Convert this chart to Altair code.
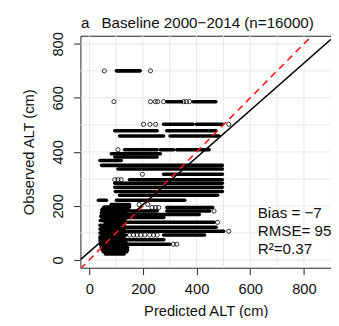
import altair as alt
import pandas as pd

# ---------------- data ----------------
# dense runs of overlapping circles: observed value (y) and predicted range (x1..x2)
run_y = [700, 586, 586, 502, 502, 478, 478, 459, 459, 408, 408, 408,
         393, 381, 368, 350, 337, 317, 297, 284, 269, 253, 239, 221, 221,
         205, 194, 181, 181, 168, 157, 139, 121, 106, 92, 92, 75, 58,
         22, 30, 38, 46, 54, 62, 70, 78, 86, 100, 114, 128, 146, 162, 174, 188, 196]
run_x1 = [101, 289, 387, 277, 399, 95, 289, 113, 301, 131, 265, 326,
          82, 95, 40, 46, 107, 277, 150, 95, 95, 97, 113, 34, 101,
          82, 289, 47, 289, 47, 47, 59, 47, 47, 47, 277, 58, 58,
          60, 52, 48, 45, 43, 42, 40, 40, 40, 40, 40, 40, 41, 43, 45, 48, 55]
run_x2 = [190, 344, 472, 387, 496, 253, 472, 277, 484, 253, 314, 447,
          265, 253, 119, 496, 496, 496, 496, 496, 496, 496, 478, 64, 356,
          150, 460, 253, 449, 410, 278, 465, 473, 501, 137, 430, 278, 300,
          130, 140, 143, 143, 140, 138, 135, 132, 130, 128, 130, 130, 128, 130, 135, 145, 150]

# isolated circles
pt_x = [56, 228, 92, 228, 246, 255, 277, 352, 362, 374, 202, 226, 247, 520,
        107, 198, 95, 107, 119, 186, 218, 234, 247, 259, 465, 478, 520,
        150, 165, 178, 192, 207, 225, 240, 253, 313, 326]
pt_y = [700, 700, 586, 586, 586, 586, 586, 586, 586, 586, 502, 502, 502, 502,
        408, 317, 297, 297, 297, 205, 205, 194, 194, 194, 181, 139, 106,
        92, 92, 92, 92, 92, 92, 92, 92, 58, 58]

# fitted line and 1:1 line end points
fit_x = [-33, 901]
fit_y = [1, 817]
one_x = [-33, 830]
one_y = [-33, 830]

grid_x = [0, 100, 200, 300, 400, 500, 600, 700, 800]
grid_y = [0, 100, 200, 300, 400, 500, 600, 700, 800]
tick_vals = [0, 200, 400, 600, 800]

stat_text = ["Bias = \u22127", "RMSE= 95", "R\u00b2=0.37"]
stat_x = [628, 628, 628]
stat_y = [173, 106, 40]

title_letter = "a"
title_text = "Baseline 2000\u22122014 (n=16000)"
x_title = "Predicted ALT (cm)"
y_title = "Observed ALT (cm)"

# ---------------- chart ----------------
FONT = "Liberation Sans"
TXT = "#111111"

xscale = alt.Scale(domain=[-33, 901], nice=False, zero=False)
yscale = alt.Scale(domain=[-29, 830], nice=False, zero=False)

xaxis = alt.Axis(title=x_title, values=tick_vals, grid=False, domain=False,
                 tickSize=7, tickColor="#222222", tickWidth=1,
                 labelFontSize=15, labelFont=FONT, labelColor=TXT,
                 labelPadding=7, labelFlush=False, labelOverlap=False,
                 titleFontSize=15, titleFont=FONT, titleFontWeight="normal",
                 titleColor=TXT, titlePadding=8, format="d")
yaxis = alt.Axis(title=y_title, values=tick_vals, grid=False, domain=False,
                 tickSize=7, tickColor="#222222", tickWidth=1,
                 labelFontSize=15, labelFont=FONT, labelColor=TXT,
                 labelAngle=270, labelAlign="center", labelBaseline="bottom",
                 labelPadding=8, labelFlush=False, labelOverlap=False,
                 titleFontSize=15, titleFont=FONT, titleFontWeight="normal",
                 titleColor=TXT, titlePadding=15, format="d")


def X(f):
    return alt.X(f, type="quantitative", scale=xscale, axis=xaxis)


def Y(f):
    return alt.Y(f, type="quantitative", scale=yscale, axis=yaxis)


runs = pd.DataFrame({"y": run_y, "x1": run_x1, "x2": run_x2})
pts = pd.DataFrame({"x": pt_x, "y": pt_y})
fit = pd.DataFrame({"x": fit_x, "y": fit_y})
one = pd.DataFrame({"x": one_x, "y": one_y})
gx = pd.DataFrame({"x": grid_x})
gy = pd.DataFrame({"y": grid_y})
stats = pd.DataFrame({"x": stat_x, "y": stat_y, "t": stat_text})

grid_v = alt.Chart(gx).mark_rule(color="#e6e6e6", strokeWidth=1).encode(x=X("x"))
grid_h = alt.Chart(gy).mark_rule(color="#e6e6e6", strokeWidth=1).encode(y=Y("y"))

run_layer = alt.Chart(runs).mark_rule(color="black", strokeWidth=3.6, strokeCap="round").encode(
    x=X("x1"), x2="x2", y=Y("y"))

pt_layer = alt.Chart(pts).mark_point(shape="circle", filled=False, color="black",
                                     size=18, strokeWidth=0.8, opacity=1).encode(
    x=X("x"), y=Y("y"))

one_layer = alt.Chart(one).mark_line(color="#ff1a1a", strokeWidth=1.6,
                                     strokeDash=[7, 5], clip=True).encode(x=X("x"), y=Y("y"))
fit_layer = alt.Chart(fit).mark_line(color="black", strokeWidth=1.5, clip=True).encode(
    x=X("x"), y=Y("y"))

stat_layer = alt.Chart(stats).mark_text(align="left", baseline="middle", fontSize=15.5,
                                        font=FONT, color=TXT).encode(
    x=X("x"), y=Y("y"), text="t:N")

one_row = alt.Data(values=[{"k": 1}])
t_a = alt.Chart(one_row).mark_text(text=title_letter, align="left", baseline="middle",
                                   fontSize=15.5, font=FONT, color=TXT).encode(
    x=alt.value(0.5), y=alt.value(-13))
t_b = alt.Chart(one_row).mark_text(text=title_text, align="left", baseline="middle",
                                   fontSize=15.5, font=FONT, color=TXT).encode(
    x=alt.value(21.5), y=alt.value(-13))

chart = alt.layer(grid_v, grid_h, run_layer, pt_layer, one_layer, fit_layer,
                  stat_layer, t_a, t_b).properties(
    width=256, height=237,
    padding={"left": 74, "top": 25, "right": 0, "bottom": 48},
    autosize=alt.AutoSizeParams(type="none"),
    background="white",
).configure_view(stroke="#222222", strokeWidth=1)

chart.save("out.html", embed_options={"renderer": "svg", "actions": False})
